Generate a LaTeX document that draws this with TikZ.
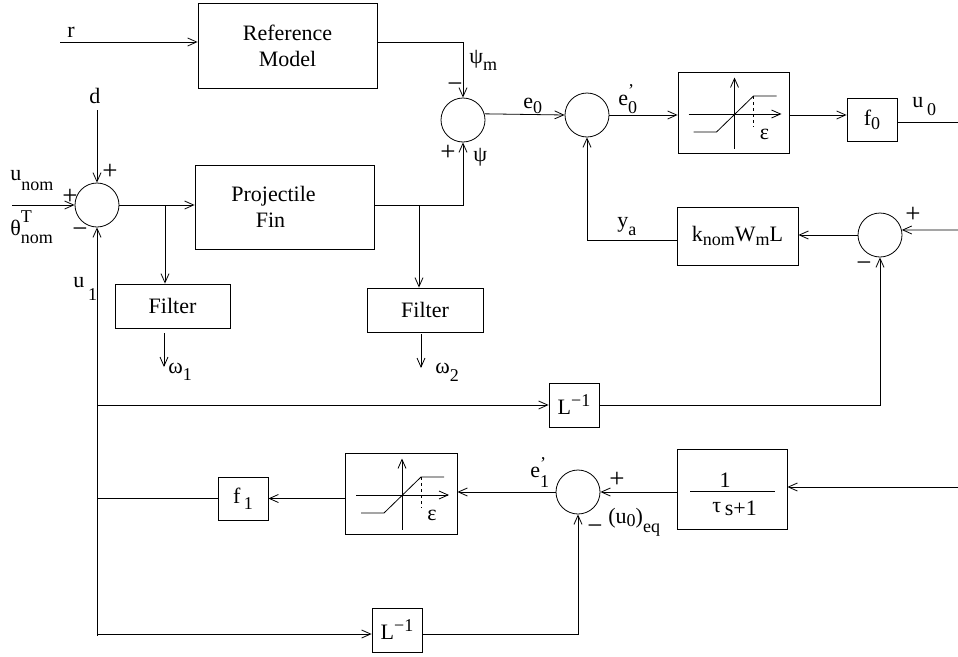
\documentclass[tikz,border=0pt]{standalone}
\usepackage{fontspec}
\setmainfont{Liberation Serif}
\usetikzlibrary{arrows.meta,calc}
\newcommand\lsub[2][6pt]{\raisebox{-#1}{\fontsize{18}{18}\selectfont #2}}
\newcommand\lsup[2][8pt]{\raisebox{#1}{\fontsize{18}{18}\selectfont #2}}
\begin{document}
\begin{tikzpicture}[x=1pt,y=-1pt,line width=0.8pt,
  font=\fontsize{22}{26}\selectfont,
  arr/.style={-{Straight Barb[length=9pt,width=8pt,line width=0.8pt]}},
  blk/.style={draw, rectangle, inner sep=0pt, align=center},
  sum/.style={draw, circle, minimum size=44pt, inner sep=0pt},
  lbl/.style={inner sep=0pt, anchor=base west},
  sgn/.style={inner sep=0pt, font=\fontsize{27}{27}\selectfont},
  satpic/.pic={
    \draw[arr] (-45,1.5) -- (48,1.5);
    \draw[arr] (1,36) -- (1,-35);
    \draw (-40,19.5) -- (-17,19.5) -- (20,-16.5) -- (43,-16.5);
    \draw[dashed] (20,-16.5) -- (20,14);
    \node[lbl] (eps) at (26,27) {ε};
  }]
\useasboundingbox (0,0) rectangle (958,656);
% blocks
\node[blk, minimum width=179pt, minimum height=85pt] (refm) at (287.5,45.5) {Reference\\Model};
\node[blk, minimum width=179pt, minimum height=84pt] (fin) at (284.5,207) {Projectile\hspace*{22pt}\\Fin\hspace*{28pt}};
\node[blk, minimum width=115pt, minimum height=44pt] (filt1) at (172.5,306) {Filter};
\node[blk, minimum width=116pt, minimum height=44pt] (filt2) at (425,310) {Filter};
\node[sum] (s0) at (97,205) {};
\node[sum] (s1) at (463,120) {};
\node[sum] (s2) at (587,115) {};
\node[blk, minimum width=111pt, minimum height=81pt] (sat1) at (733.5,112.5) {};
\node[blk, minimum width=50pt, minimum height=43pt] (f0) at (872,119.5) {f\lsub[4pt]{0}};
\node[sum] (s3) at (880,235) {};
\node[blk, minimum width=121pt, minimum height=58pt] (kwl) at (737.5,236) {k\lsub[4pt]{nom}W\lsub[4pt]{m}L};
\node[blk, minimum width=50pt, minimum height=44pt] (l1) at (574,405) {L\lsup{−1}};
\node[blk, minimum width=110pt, minimum height=80pt] (tf) at (732,489) {};
\node[sum] (s4) at (578,492) {};
\node[blk, minimum width=112pt, minimum height=81pt] (sat2) at (401,493.5) {};
\node[blk, minimum width=50pt, minimum height=43pt] (f1) at (243,498.5) {f\,\lsub{1}};
\node[blk, minimum width=50pt, minimum height=44pt] (l2) at (397,630) {L\lsup{−1}};
% fraction inside tf
\node[inner sep=0pt] (tfn) at (725,480) {1};
\draw ($(tf.center)+(-42,2)$) -- ($(tf.center)+(43,2)$);
\node[lbl] (tfd) at (712,512) {τ\,\raisebox{-3pt}{s+1}};
% saturation graphs
\pic (sat1p) at (sat1) {satpic};
\pic (sat2p) at (sat2) {satpic};
% connectors
\coordinate (rin) at (60,42);
\draw[arr] (rin) -- (rin -| refm.west);
\draw[arr] (refm.east |- rin) -| (s1.north);
\draw[arr] (fin.east |- s0) -| (s1.south);
\draw[arr] (s0.east) -- (s0.east -| fin.west);
\coordinate (b1) at (165,205);
\draw[arr] (b1) -- (b1 |- filt1.north);
\coordinate (b2) at (419,205);
\draw[arr] (b2) -- (b2 |- filt2.north);
\coordinate (w1) at (164,367);
\draw[arr] ($(filt1.south -| w1)+(0,5)$) -- (w1);
\coordinate (w2) at (421,368);
\draw[arr] ($(filt2.south -| w2)+(0,2)$) -- (w2);
\coordinate (din) at (97,110);
\draw[arr] (din) -- (s0.north);
\coordinate (uin) at (12,205);
\draw[arr] (uin) -- (s0.west);
\coordinate (bot) at (97,636);
\draw[arr] (bot) -- (s0.south);
\draw[arr] (s1.16) -- (s2.west);
\draw[arr] (s2.east) -- (s2.east -| sat1.west);
\draw[arr] (sat1.east |- s2.east) -- (f0.west |- s2.east);
\coordinate (u0out) at (958,122);
\draw (f0.east |- u0out) -- (u0out);
\coordinate (in3) at (958,230);
\draw[arr] (in3) -- (s3.13);
\draw[arr] (s3.west) -- (s3.west -| kwl.east);
\coordinate (yac) at (587,240);
\draw[arr] (kwl.west |- yac) -- (yac) -- (s2.south);
\coordinate (j1) at (97,405);
\draw[arr] (j1) -- (j1 -| l1.west);
\draw[arr] (l1.east) -| (s3.south);
\draw[arr] (tf.west |- s4.east) -- (s4.east);
\coordinate (in4) at (958,487);
\draw[arr] (in4) -- (in4 -| tf.east);
\draw[arr] (s4.west) -- (s4.west -| sat2.east);
\draw[arr] (sat2.west |- f1.east) -- (f1.east);
\draw (f1.west) -- (f1.west -| bot);
\coordinate (j3) at (97,634);
\draw[arr] (j3) -- (j3 -| l2.west);
\draw[arr] (l2.east |- j3) -| (s4.south);
% labels
\node[lbl] (lr) at (67,37) {r};
\node[lbl] (lpsim) at (469,63) {ψ\lsub[7pt]{m}};
\node[sgn] (m1) at (455,88) {−};
\node[sgn] (p1) at (448,153) {+};
\node[lbl] (lpsi) at (473,161) {ψ};
\node[lbl] (ld) at (89,103) {d};
\node[sgn] (p2) at (110,172) {+};
\node[lbl] (lunom) at (10,180) {u\lsub[10pt]{nom}};
\node[sgn] (p3) at (70,197) {+};
\node[lbl] (ltheta) at (10,235) {θ\rlap{\lsup[13pt]{T}}\lsub[8pt]{nom}};
\node[sgn] (m2) at (80,233) {−};
\node[lbl] (lu1) at (73,287) {u\,\lsub[13pt]{1}};
\node[lbl] (le0) at (523,108) {e\lsub[5pt]{0}};
\node[lbl] (le0p) at (618,105) {e\rlap{\lsup[9pt]{’}}\lsub[8pt]{0}};
\node[lbl] (lu0) at (912,107) {u\,\lsub[8pt]{0}};
\node[sgn] (p4) at (913,215) {+};
\node[lbl] (lya) at (617,227) {y\lsub[8pt]{a}};
\node[sgn] (m3) at (864,267) {−};
\node[lbl] (lw1) at (168,373) {ω\lsub[7pt]{1}};
\node[lbl] (lw2) at (435,373) {ω\lsub[8pt]{2}};
\node[lbl] (le1p) at (530,477) {e\rlap{\lsup[8pt]{’}}\lsub[10pt]{1}};
\node[sgn] (p5) at (617,480) {+};
\node[lbl] (lu0eq) at (608,523) {(u\lsub[3pt]{0})\lsub[9pt]{eq}};
\node[sgn] (m4) at (595,530) {−};
\end{tikzpicture}
\end{document}
